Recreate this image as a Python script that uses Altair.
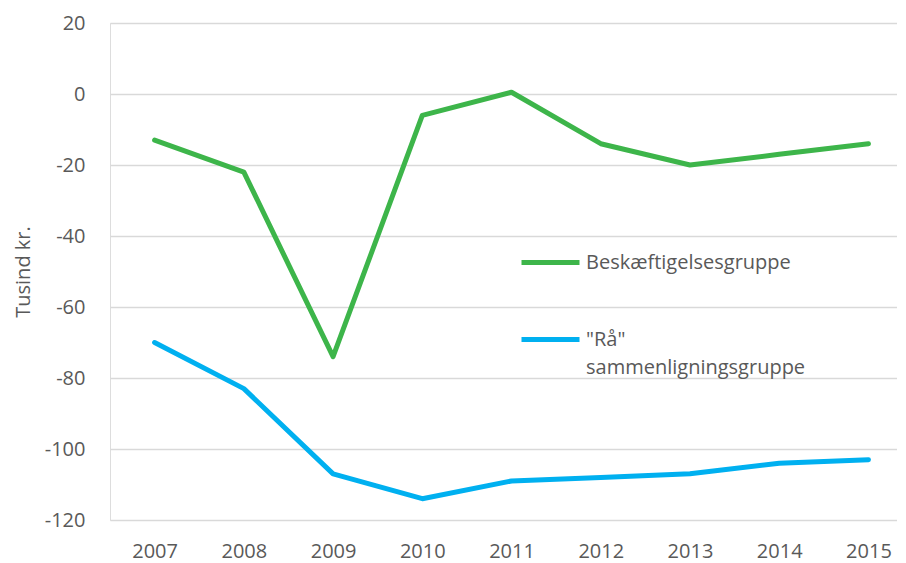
import altair as alt
import pandas as pd

years = [2007, 2008, 2009, 2010, 2011, 2012, 2013, 2014, 2015]
besk = [-13, -22, -74, -6, 0.5, -14, -20, -17, -14]
raa = [-70, -83, -107, -114, -109, -108, -107, -104, -103]
series_names = ["Beskæftigelsesgruppe", '"Rå" sammenligningsgruppe']
colors = ["#3DB54A", "#00B0F0"]
y_ticks = [20, 0, -20, -40, -60, -80, -100, -120]

df = pd.DataFrame({
    "year": years * 2,
    "value": besk + raa,
    "series": [series_names[0]] * len(years) + [series_names[1]] * len(years),
})

FONT = "Open Sans"
GREY = "#595959"
FS = 20

chart = alt.Chart(df).mark_line(strokeWidth=5, strokeCap="round", strokeJoin="round").encode(
    x=alt.X("year:Q",
            scale=alt.Scale(domain=[2006.5, 2015.32], nice=False, zero=False),
            axis=alt.Axis(values=years, format="d", title=None, grid=False, domain=False,
                          ticks=False, labelPadding=21, labelFontSize=FS, labelColor=GREY,
                          labelFont=FONT)),
    y=alt.Y("value:Q",
            scale=alt.Scale(domain=[-120, 20], nice=False, zero=False),
            axis=alt.Axis(values=y_ticks, title="Tusind kr.", grid=True, gridColor="#D9D9D9",
                          gridWidth=1.5, domain=False, ticks=False, labelPadding=25,
                          labelExpr="datum.value + ''",
                          labelFontSize=FS, labelColor=GREY, labelFont=FONT,
                          titleFontSize=FS, titleColor=GREY, titleFont=FONT,
                          titleFontWeight="normal", titlePadding=11)),
    color=alt.Color("series:N",
                    scale=alt.Scale(domain=series_names, range=colors),
                    legend=alt.Legend(title=None, orient="none", legendX=409, legendY=208,
                                      symbolType="stroke", symbolSize=3364,
                                      symbolStrokeWidth=5, labelFontSize=FS,
                                      labelColor=GREY, labelFont=FONT, rowPadding=35,
                                      labelExpr="split(datum.label, ' ')",
                                      labelLimit=400, labelOffset=4)),
).properties(width=787, height=497, padding={"left": 5, "top": 5, "right": 0, "bottom": 0}
).configure_view(stroke=None).configure(background="white",
                                        style={"guide-label": {"lineHeight": 28}})

chart.save("out.html", embed_options={"renderer": "svg", "actions": False})
